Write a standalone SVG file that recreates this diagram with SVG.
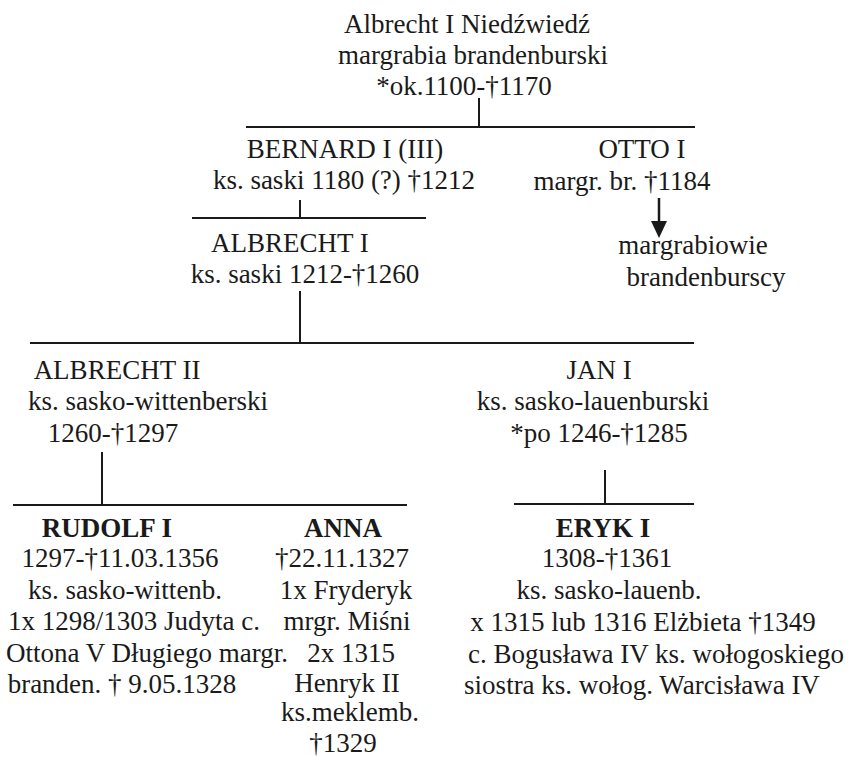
<svg xmlns="http://www.w3.org/2000/svg" width="850" height="757" viewBox="0 0 850 757">
<style>
text{font-family:"Liberation Serif","Times New Roman",serif;font-size:27px;fill:#1a1a1a;text-anchor:middle}
.b{font-weight:bold}
line{stroke:#1a1a1a;stroke-width:2}
</style>
<rect width="850" height="757" fill="#fff"/>
<g id="connectors">
<line x1="479" y1="98" x2="479" y2="127"/>
<line x1="246" y1="127" x2="695" y2="127"/>
<line x1="300" y1="200" x2="300" y2="218"/>
<line x1="192" y1="218" x2="426" y2="218"/>
<line x1="300" y1="291" x2="300" y2="343"/>
<line x1="30" y1="343" x2="694" y2="343"/>
<line x1="102" y1="452" x2="102" y2="505"/>
<line x1="13" y1="505" x2="407" y2="505"/>
<line x1="605" y1="470" x2="605" y2="504"/>
<line x1="514" y1="504" x2="694" y2="504"/>
<path d="M659,198 L659,224" stroke="#1a1a1a" stroke-width="2.5" fill="none"/>
<path d="M651,221 L667,221 L659,238 z" fill="#1a1a1a"/>
</g>
<g id="albrecht-niedzwiedz">
<text x="467" y="33">Albrecht I Niedźwiedź</text>
<text x="473" y="64">margrabia brandenburski</text>
<text x="464" y="95">*ok.1100-†1170</text>
</g>
<g id="bernard">
<text x="345" y="158">BERNARD I (III)</text>
<text x="344" y="189">ks. saski 1180 (?) †1212</text>
</g>
<g id="otto">
<text x="642" y="158">OTTO I</text>
<text x="622" y="190">margr. br. †1184</text>
</g>
<g id="margrabiowie">
<text x="693" y="254">margrabiowie</text>
<text x="706" y="286">brandenburscy</text>
</g>
<g id="albrecht-i">
<text x="290" y="252">ALBRECHT I</text>
<text x="305" y="283">ks. saski 1212-†1260</text>
</g>
<g id="albrecht-ii">
<text x="117" y="379">ALBRECHT II</text>
<text x="148" y="410">ks. sasko-wittenberski</text>
<text x="113" y="442">1260-†1297</text>
</g>
<g id="jan">
<text x="599" y="379">JAN I</text>
<text x="593" y="410">ks. sasko-lauenburski</text>
<text x="599" y="442">*po 1246-†1285</text>
</g>
<g id="rudolf">
<text x="107" y="537" class="b">RUDOLF I</text>
<text x="120" y="567">1297-†11.03.1356</text>
<text x="125" y="599">ks. sasko-wittenb.</text>
<text x="134" y="630">1x 1298/1303 Judyta c.</text>
<text x="147" y="662">Ottona V Długiego margr.</text>
<text x="122" y="693">branden. † 9.05.1328</text>
</g>
<g id="anna">
<text x="343" y="537" class="b">ANNA</text>
<text x="342" y="567">†22.11.1327</text>
<text x="346" y="599">1x Fryderyk</text>
<text x="347" y="630">mrgr. Miśni</text>
<text x="351" y="662">2x 1315</text>
<text x="347" y="692">Henryk II</text>
<text x="350" y="721">ks.meklemb.</text>
<text x="343" y="752">†1329</text>
</g>
<g id="eryk">
<text x="603" y="537" class="b">ERYK I</text>
<text x="607" y="567">1308-†1361</text>
<text x="609" y="599">ks. sasko-lauenb.</text>
<text x="643" y="631">x 1315 lub 1316 Elżbieta †1349</text>
<text x="656" y="663">c. Bogusława IV ks. wołogoskiego</text>
<text x="642" y="694">siostra ks. wołog. Warcisława IV</text>
</g>
</svg>
